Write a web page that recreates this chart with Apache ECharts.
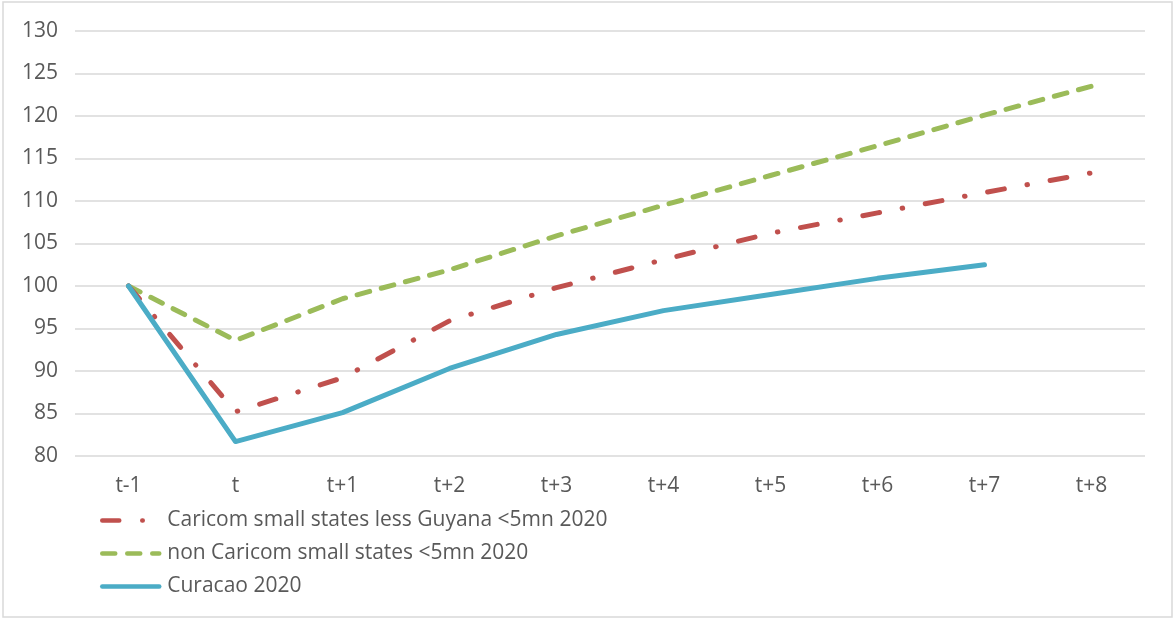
<!DOCTYPE html>
<html>
<head>
<meta charset="utf-8">
<script src="https://cdn.jsdelivr.net/npm/echarts@6/dist/echarts.min.js"></script>
<style>
html,body{margin:0;padding:0;background:#fff;}
#c{width:1174px;height:618px;}
</style>
</head>
<body>
<div id="c"></div>
<script>
const categories = ['t-1','t','t+1','t+2','t+3','t+4','t+5','t+6','t+7','t+8'];
const caricomName = 'Caricom small states less Guyana <5mn 2020';
const nonCaricomName = 'non Caricom small states <5mn 2020';
const curacaoName = 'Curacao 2020';
const caricom = [100, 85.2, 89.2, 95.9, 99.8, 103.1, 106.2, 108.6, 111.0, 113.3];
const nonCaricom = [100, 93.6, 98.5, 101.9, 105.9, 109.5, 113.0, 116.5, 120.1, 123.5];
const curacao = [100, 81.7, 85.1, 90.3, 94.3, 97.1, 99.0, 100.9, 102.5, null];

const font = '"Open Sans", sans-serif';
const txt = '#595959';

const chart = echarts.init(document.getElementById('c'));
chart.setOption({
  animation: false,
  backgroundColor: '#fff',
  graphic: [{
    type: 'rect', silent: true,
    shape: {x: 3, y: 2, width: 1169, height: 615},
    style: {fill: 'none', stroke: '#d9d9d9', lineWidth: 1.5}
  }],
  grid: {left: 75, right: 29, top: 31, bottom: 162, containLabel: false},
  legend: {
    orient: 'vertical', left: 95, top: 505, itemGap: 12,
    itemWidth: 57, itemHeight: 18,
    itemStyle: {opacity: 0},
    lineStyle: {width: 4.5, cap: 'round'},
    textStyle: {fontFamily: font, fontSize: 21, color: txt, padding: [0,0,0,3]},
    data: [caricomName, nonCaricomName, curacaoName]
  },
  xAxis: {
    type: 'category', data: categories, boundaryGap: true,
    axisLine: {show: false}, axisTick: {show: false},
    axisLabel: {fontFamily: font, fontSize: 21, color: txt, margin: 20}
  },
  yAxis: {
    type: 'value', min: 80, max: 130, interval: 5,
    axisLine: {show: false}, axisTick: {show: false},
    axisLabel: {fontFamily: font, fontSize: 21, color: txt, margin: 17},
    splitLine: {lineStyle: {color: '#d9d9d9', width: 1.5}}
  },
  series: [
    {
      name: caricomName, type: 'line', data: caricom, symbol: 'none', z: 3,
      itemStyle: {color: '#C0504D'},
      lineStyle: {color: '#C0504D', width: 5, type: [17, 23, 0.5, 23], cap: 'round', join: 'round'}
    },
    {
      name: nonCaricomName, type: 'line', data: nonCaricom, symbol: 'none', z: 2,
      itemStyle: {color: '#9BBB59'},
      lineStyle: {color: '#9BBB59', width: 5, type: [13, 12], cap: 'round', join: 'round'}
    },
    {
      name: curacaoName, type: 'line', data: curacao, symbol: 'none', z: 4,
      itemStyle: {color: '#4BACC6'},
      lineStyle: {color: '#4BACC6', width: 5, cap: 'round', join: 'round'}
    }
  ]
});
</script>
</body>
</html>
